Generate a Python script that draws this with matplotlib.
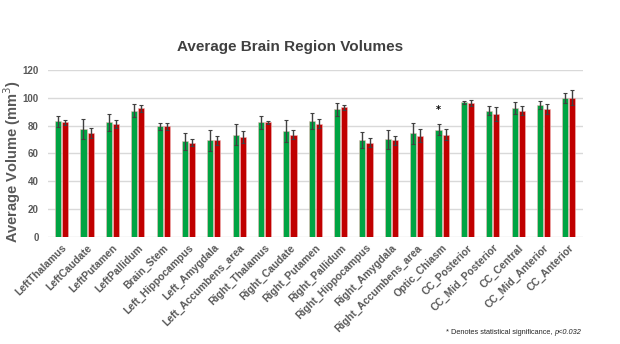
import numpy as np
import matplotlib.pyplot as plt

regions = ['LeftThalamus', 'LeftCaudate', 'LeftPutamen', 'LeftPallidum', 'Brain_Stem',
           'Left_Hippocampus', 'Left_Amygdala', 'Left_Accumbens_area', 'Right_Thalamus',
           'Right_Caudate', 'Right_Putamen', 'Right_Pallidum', 'Right_Hippocampus',
           'Right_Amygdala', 'Right_Accumbens_area', 'Optic_Chiasm', 'CC_Posterior',
           'CC_Mid_Posterior', 'CC_Central', 'CC_Mid_Anterior', 'CC_Anterior']

green_vals = [83.1, 77.3, 82.2, 90.8, 79.5, 68.7, 69.4, 73.5, 82.2, 76.1, 83.1,
              91.6, 69.4, 70.1, 74.5, 77.1, 96.6, 90.8, 92.3, 94.7, 100.0]
green_err = [4.0, 7.3, 6.0, 5.0, 2.5, 6.0, 7.6, 7.5, 5.0, 7.8, 5.6,
             4.4, 5.8, 7.0, 7.5, 4.0, 1.2, 3.4, 4.3, 3.0, 3.6]
red_vals = [82.2, 74.7, 81.4, 92.5, 79.5, 67.7, 69.4, 71.8, 82.2, 73.5, 81.4,
            93.0, 67.7, 69.4, 72.8, 73.5, 96.1, 88.2, 90.8, 91.8, 100.0]
red_err = [1.8, 3.3, 2.9, 2.5, 2.5, 2.7, 3.0, 4.0, 1.2, 3.5, 3.0,
           1.7, 3.3, 3.0, 4.5, 3.8, 2.2, 5.0, 3.4, 3.4, 5.3]

signif = ['Optic_Chiasm']
signif_y = 91.5

fig = plt.figure(figsize=(6.2, 3.44), dpi=100)
ax = fig.add_axes([0.077, 0.311, 0.863, 0.486])

x = np.arange(len(regions))
w = 0.24
ax.bar(x - 0.14, green_vals, w, color='#00A443', edgecolor='#F2B8B8', linewidth=0.4,
       yerr=green_err, error_kw=dict(ecolor='#404040', elinewidth=1, capsize=1.2, capthick=0.8), zorder=3)
ax.bar(x + 0.14, red_vals, w, color='#C00000', edgecolor='#F2B8B8', linewidth=0.4,
       yerr=red_err, error_kw=dict(ecolor='#404040', elinewidth=1, capsize=1.2, capthick=0.8), zorder=3)

for name in signif:
    i = regions.index(name)
    ax.text(i - 0.14, signif_y, '*', ha='center', va='center', fontsize=7,
            fontweight='bold', color='black')

ax.set_ylim(0, 120)
ax.set_xlim(-0.55, len(regions) - 0.45)
ax.set_yticks(range(0, 121, 20))
ax.yaxis.grid(True, color='#D9D9D9', linewidth=1, zorder=0)
for s in ax.spines.values():
    s.set_visible(False)
ax.tick_params(axis='both', length=0, labelcolor='#595959')
ax.tick_params(axis='y', pad=6.5)
ax.tick_params(axis='x', pad=4)
ax.set_xticks(x)
ax.set_xticklabels(regions, rotation=45, ha='right', rotation_mode='anchor',
                   fontsize=7.5, fontweight='bold', family='Liberation Sans')
for lab in ax.get_yticklabels():
    lab.set_fontsize(7)
    lab.set_fontweight('bold')
    lab.set_family('Liberation Sans')

fig.text(0.468, 0.862, 'Average Brain Region Volumes', ha='center', va='center',
         fontsize=11, fontweight='bold', color='#404040', family='Liberation Sans')
fig.text(0.019, 0.53, 'Average Volume (mm$^3$)', rotation=90, ha='center', va='center',
         fontsize=10.5, fontweight='bold', color='#595959', family='Liberation Sans')

# footnote with italic p-value
fig.canvas.draw()
t2 = fig.text(0.937, 0.032, 'p<0.032', ha='right', va='center', fontsize=5.3,
              style='italic', color='#262626', family='Liberation Sans')
bb = t2.get_window_extent(fig.canvas.get_renderer())
fig.text(bb.x0 / fig.bbox.width, 0.032, '* Denotes statistical significance, ',
         ha='right', va='center', fontsize=5.3, color='#262626', family='Liberation Sans')

fig.savefig('out.png', dpi=100)
